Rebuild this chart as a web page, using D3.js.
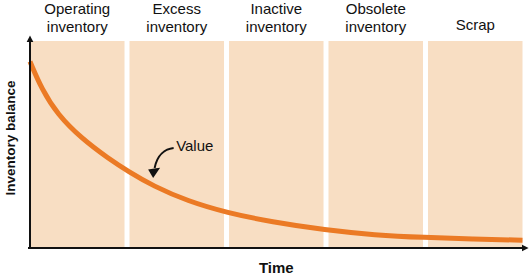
<!DOCTYPE html>
<html>
<head>
<meta charset="utf-8">
<script src="https://cdn.jsdelivr.net/npm/d3@7"></script>
<style>
  body { margin: 0; background: #fff; }
  svg text { font-family: "Liberation Sans", Arial, sans-serif; fill: #111; }
</style>
</head>
<body>
<div id="chart"></div>
<script>
// stages along the time axis (top labels)
var stages = ["Operating inventory", "Excess inventory", "Inactive inventory", "Obsolete inventory", "Scrap"];
var stageLines = [["Operating", "inventory"], ["Excess", "inventory"], ["Inactive", "inventory"], ["Obsolete", "inventory"], ["Scrap"]];

// value curve (time in stage units, value in % of plot height)
var times  = [0, 0.12, 0.28, 0.52, 0.8, 1, 1.25, 1.6, 2, 2.45, 3, 3.5, 4, 4.5, 5];
var values = [90, 76.5, 64.3, 52.8, 42.8, 36.6, 29.6, 22.3, 16.6, 12.2, 8.2, 5.8, 4.6, 3.9, 3.3];

var W = 529, H = 279;
var margin = { top: 41, right: 6.5, bottom: 32, left: 30 };
var width = W - margin.left - margin.right,
    height = H - margin.top - margin.bottom;

var svg = d3.select("#chart")
  .append("svg")
    .attr("width", W)
    .attr("height", H);

var g = svg.append("g")
    .attr("transform", "translate(" + margin.left + "," + margin.top + ")");

// scales
var band = d3.scaleBand()
    .domain(stages)
    .range([0, width])
    .paddingInner(0.05)
    .paddingOuter(0);

var x = d3.scaleLinear()
    .domain([0, 5])
    .range([0, width]);

var y = d3.scaleLinear()
    .domain([0, 100])
    .range([height, 0]);

// arrow marker for axes
var defs = svg.append("defs");
defs.append("marker")
    .attr("id", "axArrow")
    .attr("viewBox", "0 0 10 10")
    .attr("refX", 2)
    .attr("refY", 5)
    .attr("markerUnits", "userSpaceOnUse")
    .attr("markerWidth", 7)
    .attr("markerHeight", 9)
    .attr("orient", "auto")
  .append("path")
    .attr("d", "M0,0 L10,5 L0,10 Z")
    .attr("fill", "#111");

// stage panels
g.selectAll("rect.panel")
  .data(stages)
  .enter()
  .append("rect")
    .attr("class", "panel")
    .attr("x", function (d) { return band(d); })
    .attr("y", 0)
    .attr("width", band.bandwidth())
    .attr("height", height)
    .style("fill", "#f8dec3");

// stage labels above panels
var labels = g.selectAll("text.stage")
  .data(stages)
  .enter()
  .append("text")
    .attr("class", "stage")
    .attr("text-anchor", "middle")
    .style("font-size", "15px");

labels.each(function (d, i) {
  var lines = stageLines[i];
  var t = d3.select(this);
  lines.forEach(function (l, j) {
    var base = lines.length == 1 ? -11 : -27 + j * 17.5;
    t.append("tspan")
      .attr("x", band(d) + band.bandwidth() / 2)
      .attr("y", base)
      .text(l);
  });
});

// value curve
var line = d3.line()
    .x(function (d, i) { return x(times[i]); })
    .y(function (d) { return y(d); })
    .curve(d3.curveBasis);

g.append("path")
    .datum(values)
    .attr("d", line)
    .style("fill", "none")
    .style("stroke", "#eb7a25")
    .style("stroke-width", 5)
    .style("stroke-linecap", "butt");

// axes
g.append("line")
    .attr("x1", 0).attr("y1", height + 1)
    .attr("x2", 0).attr("y2", 0)
    .attr("stroke", "#111")
    .attr("stroke-width", 2)
    .attr("marker-end", "url(#axArrow)");

g.append("line")
    .attr("x1", -2).attr("y1", height + 1)
    .attr("x2", width + 0.5).attr("y2", height + 1)
    .attr("stroke", "#111")
    .attr("stroke-width", 2)
    .attr("marker-end", "url(#axArrow)");

// axis titles
svg.append("text")
    .attr("x", margin.left + width / 2)
    .attr("y", H - 6)
    .attr("text-anchor", "middle")
    .style("font-size", "15px")
    .style("font-weight", "bold")
    .text("Time");

svg.append("text")
    .attr("transform", "translate(14.5,138) rotate(-90)")
    .attr("text-anchor", "middle")
    .style("font-size", "13.5px")
    .style("font-weight", "bold")
    .text("Inventory balance");

// "Value" annotation: arrow tip sits just above the curve at t = 1.25
var tx = x(1.25), ty = y(29.6) - 8;
var ann = g.append("g").attr("transform", "translate(" + tx + "," + ty + ")");

ann.append("text")
    .attr("x", 23)
    .attr("y", -27)
    .style("font-size", "15px")
    .text("Value");

ann.append("path")
    .attr("d", "M20.5,-30 C12,-29 4,-23 1.5,-10")
    .style("fill", "none")
    .style("stroke", "#111")
    .style("stroke-width", 2);

ann.append("path")
    .attr("d", "M0,0 L-5,-8.5 L1.2,-9.5 L7,-10.3 Z")
    .style("fill", "#111");
</script>
</body>
</html>
